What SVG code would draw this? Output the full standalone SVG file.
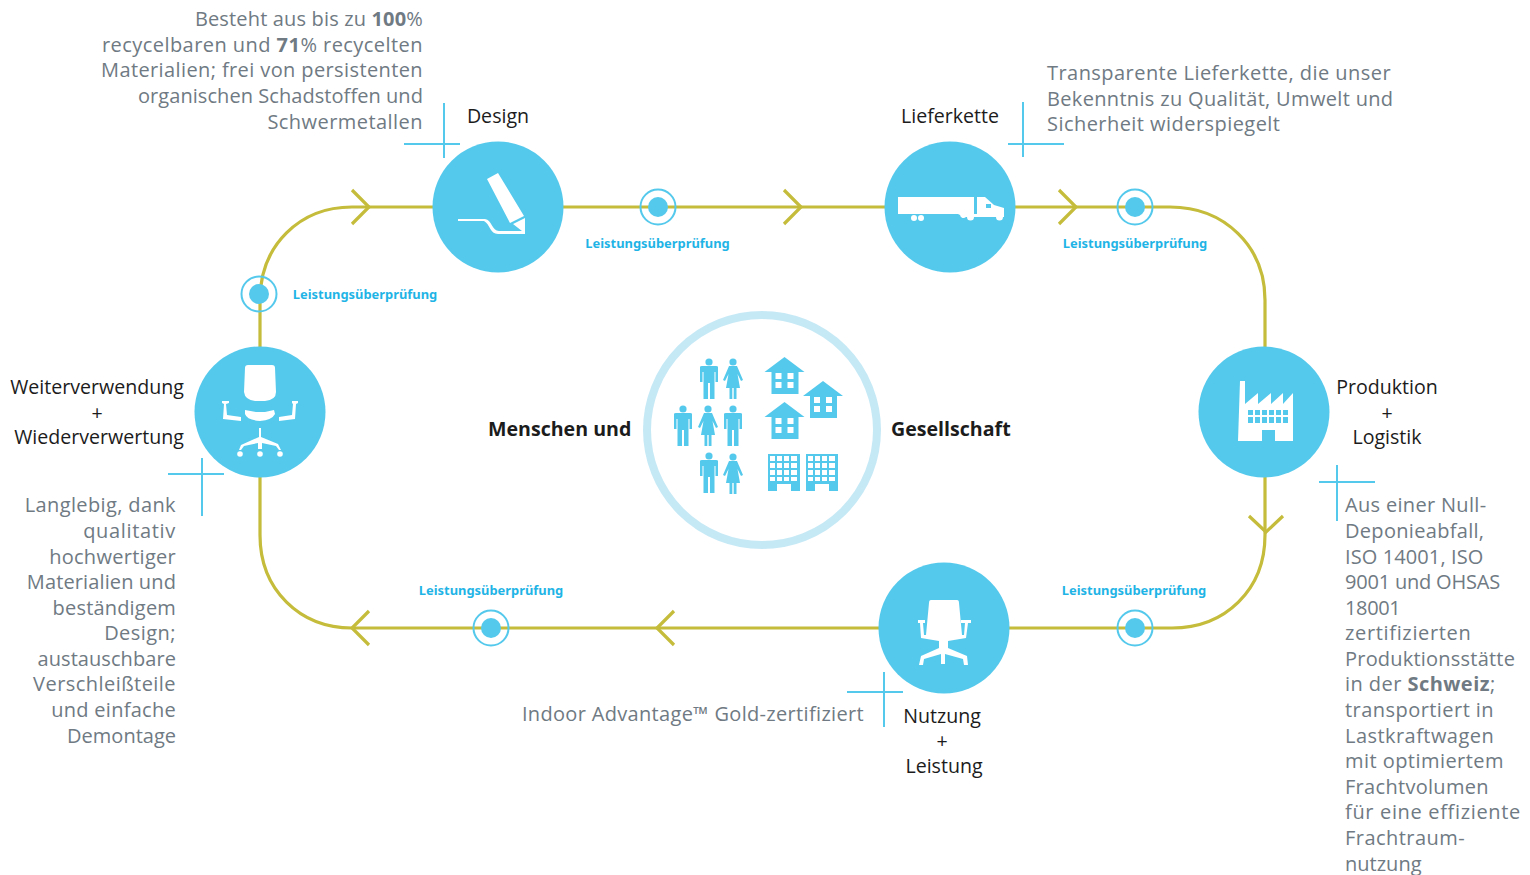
<svg xmlns="http://www.w3.org/2000/svg" width="1530" height="875" viewBox="0 0 1530 875">
<style>
text{font-family:"Open Sans","Noto Sans","DejaVu Sans",sans-serif}
.t{font-size:20px;letter-spacing:.45px;fill:#6f7a83}
.l{font-size:19.600px;fill:#1c1c1c}
.e{text-anchor:end}
.m{text-anchor:middle}
.c{font-size:12.900px;font-weight:700;fill:#1fb4e6;text-anchor:middle;font-family:"Noto Sans","Open Sans",sans-serif}
.h{font-size:19.600px;font-weight:700;fill:#1c1c1c}
.track{fill:none;stroke:#c4bc3a;stroke-width:3.200}
.chev{fill:none;stroke:#c4bc3a;stroke-width:3.200}
.ring{fill:none;stroke:#55c9ec;stroke-width:2}
.dot{fill:#55c9ec}
.cross{stroke:#55c9ec;stroke-width:2;fill:none}
.node{fill:#55c9ec}
.w{fill:#fff}
.b{fill:#55c9ec}
</style>
<defs>
<g id="man"><circle cx="0" cy="-17" r="3.600"/><path d="M-9 -12Q-9 -13 -7 -13H7Q9 -13 9 -12V3H6.500V-7H5.500V20H1V4H-1V20H-5.500V-7H-6.500V3H-9Z"/></g>
<g id="woman"><circle cx="0" cy="-17" r="3.600"/><path d="M-4 -13H4L10 1 8 2 4.500 -5 7 9H3.500V20H.7V9H-.7V20H-3.500V9H-7L-4.500 -5-8 2-10 1Z"/></g>
<g id="house"><path d="M0 -18L20 -3H14V19H-13V-3H-20Z"/><path fill="#fff" d="M-9 -2H-3V4H-9ZM3 -2H9V4H3ZM-9 7H-3V13H-9ZM3 7H9V13H3Z"/></g>
<g id="block"><path d="M-16 -18H16V19H7V12H-7V19H-16Z"/><path fill="#fff" d="M-14 -16H-9V-11H-14ZM-7 -16H-2V-11H-7ZM0 -16H5V-11H0ZM7 -16H13V-11H7ZM-14 -9H-9V-4H-14ZM-7 -9H-2V-4H-7ZM0 -9H5V-4H0ZM7 -9H13V-4H7ZM-14 -2H-9V3H-14ZM-7 -2H-2V3H-7ZM0 -2H5V3H0ZM7 -2H13V3H7ZM-14 5H-9V9H-14ZM-7 5H-2V9H-7ZM0 5H5V9H0ZM7 5H13V9H7Z"/></g>
</defs>

<g id="connectors">
<path class="track" d="M260 347V300C260 245 300 207 352 207H1170C1225 207 1265 247 1265 300V535C1265 590 1225 628 1172 628H352C300 628 260 590 260 535V477"/>
<path class="chev" d="M352 190L369 207 352 224M784 190L801 207 784 224M1059 190L1076 207 1059 224M1249 516L1266 532 1283 516M369 611L352 628 369 645M674 611L657 628 674 645"/>
</g>

<g id="checks">
<g id="check1"><circle class="ring" cx="658" cy="207" r="17.500"/><circle class="dot" cx="658" cy="207" r="10"/><text class="c" x="657.500" y="248">Leistungsüberprüfung</text></g>
<g id="check2"><circle class="ring" cx="1135" cy="207" r="17.500"/><circle class="dot" cx="1135" cy="207" r="10"/><text class="c" x="1135" y="248">Leistungsüberprüfung</text></g>
<g id="check3"><circle class="ring" cx="1135" cy="628" r="17.500"/><circle class="dot" cx="1135" cy="628" r="10"/><text class="c" x="1134" y="595">Leistungsüberprüfung</text></g>
<g id="check4"><circle class="ring" cx="491" cy="628" r="17.500"/><circle class="dot" cx="491" cy="628" r="10"/><text class="c" x="491" y="595">Leistungsüberprüfung</text></g>
<g id="check5"><circle class="ring" cx="259" cy="294" r="17.500"/><circle class="dot" cx="259" cy="294" r="10"/><text class="c" x="365" y="299">Leistungsüberprüfung</text></g>
</g>

<g id="design">
<circle class="node" cx="498" cy="207" r="65.500"/>
<path class="w" d="M487 179L498 173 524 216 510 223ZM513 224L525 218 525 234H498C490 234 490 224 484 221H458V219H485C492 220 492 231 499 231H522Z"/>
<text class="l m" x="498" y="123">Design</text>
<path class="cross" d="M404 144H460M444 103V158"/>
<text class="t e"><tspan x="423" y="26" letter-spacing=".16">Besteht aus bis zu <tspan font-weight="700">100</tspan>%</tspan><tspan x="423" y="52">recycelbaren und <tspan font-weight="700">71</tspan>% recycelten</tspan><tspan x="423" y="77" letter-spacing=".39">Materialien; frei von persistenten</tspan><tspan x="423" y="103" letter-spacing=".06">organischen Schadstoffen und</tspan><tspan x="423" y="129">Schwermetallen</tspan></text>
</g>

<g id="lieferkette">
<circle class="node" cx="950" cy="207" r="65.500"/>
<path class="w" d="M898 197H974V214H898ZM977 197H985L994 205 1004 208V217H1003A3.500 3.500 0 0 1 996 217H974A3.500 3.500 0 0 1 967 217H966A3.500 3.500 0 0 1 960 215L958 214H977Z"/>
<circle class="w" cx="914" cy="218" r="3"/><circle class="w" cx="921" cy="218" r="3"/>
<path class="b" d="M986 204H991V208H986Z"/>
<text class="l m" x="950" y="123">Lieferkette</text>
<path class="cross" d="M1008 144H1064M1023 102V157"/>
<text class="t"><tspan x="1047" y="80">Transparente Lieferkette, die unser</tspan><tspan x="1047" y="106" letter-spacing=".33">Bekenntnis zu Qualität, Umwelt und</tspan><tspan x="1047" y="131">Sicherheit widerspiegelt</tspan></text>
</g>

<g id="produktion">
<circle class="node" cx="1264" cy="412" r="65.500"/>
<path class="w" d="M1240 381H1245V404L1258 393V404L1271 393V404L1283 393V404L1293 393V441H1275V430H1262V441H1238Z"/>
<path class="b" d="M1248 410H1253V415H1248ZM1255 410H1260V415H1255ZM1262 410H1267V415H1262ZM1269 410H1274V415H1269ZM1276 410H1281V415H1276ZM1283 410H1288V415H1283ZM1248 417H1253V423H1248ZM1255 417H1260V423H1255ZM1262 417H1267V423H1262ZM1269 417H1274V423H1269ZM1276 417H1281V423H1276ZM1283 417H1288V423H1283Z"/>
<text class="l m"><tspan x="1387" y="394">Produktion</tspan><tspan x="1387" y="420">+</tspan><tspan x="1387" y="444">Logistik</tspan></text>
<path class="cross" d="M1319 482H1375M1337 465V521"/>
<text class="t"><tspan x="1345" y="512" letter-spacing=".32">Aus einer Null-</tspan><tspan x="1345" y="538" letter-spacing=".31">Deponieabfall,</tspan><tspan x="1345" y="564" letter-spacing=".1">ISO 14001, ISO</tspan><tspan x="1345" y="589" letter-spacing="-.2">9001 und OHSAS</tspan><tspan x="1345" y="615" letter-spacing="-.35">18001</tspan><tspan x="1345" y="640" letter-spacing=".66">zertifizierten</tspan><tspan x="1345" y="666" letter-spacing=".21">Produktionsstätte</tspan><tspan x="1345" y="691">in der <tspan font-weight="700">Schweiz</tspan>;</tspan><tspan x="1345" y="717">transportiert in</tspan><tspan x="1345" y="743">Lastkraftwagen</tspan><tspan x="1345" y="768">mit optimiertem</tspan><tspan x="1345" y="794" letter-spacing=".3">Frachtvolumen</tspan><tspan x="1345" y="819" letter-spacing=".66">für eine effiziente</tspan><tspan x="1345" y="845">Frachtraum-</tspan><tspan x="1345" y="871" letter-spacing=".02">nutzung</tspan></text>
</g>

<g id="nutzung">
<circle class="node" cx="944" cy="628" r="65.500"/>
<path class="w" d="M931 600H957Q959 600 959 603L962 635H964L965 623H961V620H971V623H968L966 638 948 641V648L967 656 968 665H964L963 659 945 654V664H941V654L924 659 923 665H919L921 656 939 648V641L921 638 920 623H918V620H925V623H923L924 635H926L929 603Q929 600 931 600Z"/>
<text class="l m"><tspan x="942" y="723">Nutzung</tspan><tspan x="942" y="748">+</tspan><tspan x="944" y="773">Leistung</tspan></text>
<path class="cross" d="M847 692H903M884 672V727"/>
<text class="t e"><tspan x="864" y="721" letter-spacing=".33">Indoor Advantage™ Gold-zertifiziert</tspan></text>
</g>

<g id="weiter">
<circle class="node" cx="260" cy="412" r="65.500"/>
<path class="w" d="M248 365H272Q275 365 275 368L276 392Q276 400 265 401H255Q245 400 244 392L245 368Q245 365 248 365ZM245 410L256 412H265L274 410 275 414Q272 420 260 421 247 420 245 414ZM222 401H229V403L226 404 227 415 241 417V421L223 419 224 404 222 403ZM292 401H298V403L296 404 295 419 279 421V417L292 415 293 404 292 403ZM259 428H261V437L278 444 281 450H279L276 446 262 443V449H258V443L244 446 241 450H239L241 445 259 437Z"/>
<circle class="w" cx="240" cy="454" r="2.800"/><circle class="w" cx="260" cy="454" r="2.800"/><circle class="w" cx="280" cy="454" r="2.800"/>
<text class="l"><tspan class="m" x="97" y="394">Weiterverwendung</tspan><tspan class="m" x="97" y="420">+</tspan><tspan class="m" x="99" y="444">Wiederverwertung</tspan></text>
<path class="cross" d="M168 474H224M202 458V516"/>
<text class="t e"><tspan x="176" y="512" letter-spacing=".38">Langlebig, dank</tspan><tspan x="176" y="538" letter-spacing=".67">qualitativ</tspan><tspan x="176" y="564" letter-spacing=".28">hochwertiger</tspan><tspan x="176" y="589" letter-spacing=".12">Materialien und</tspan><tspan x="176" y="615" letter-spacing=".18">beständigem</tspan><tspan x="176" y="640">Design;</tspan><tspan x="176" y="666" letter-spacing=".07">austauschbare</tspan><tspan x="176" y="691">Verschleißteile</tspan><tspan x="176" y="717" letter-spacing=".28">und einfache</tspan><tspan x="176" y="743" letter-spacing="0">Demontage</tspan></text>
</g>

<g id="center">
<circle cx="762" cy="430" r="115" fill="none" stroke="#c6e9f6" stroke-width="8"/>
<text class="h" x="488" y="436">Menschen und</text>
<text class="h" x="891" y="436">Gesellschaft</text>
<g class="b">
<use href="#man" x="709" y="379"/><use href="#woman" x="733" y="379"/>
<use href="#man" x="683" y="426"/><use href="#woman" x="708" y="426"/><use href="#man" x="733" y="426"/>
<use href="#man" x="709" y="473"/><use href="#woman" x="733" y="474"/>
<use href="#house" x="784.500" y="375"/><use href="#house" x="823" y="399"/><use href="#house" x="784.500" y="420"/>
<use href="#block" x="784" y="472"/><use href="#block" x="822" y="472"/>
</g>
</g>
</svg>
